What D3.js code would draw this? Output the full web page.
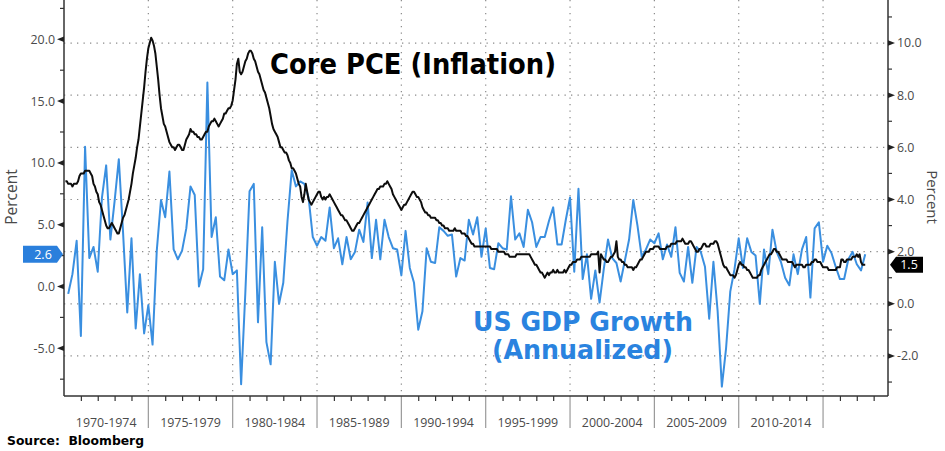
<!DOCTYPE html>
<html>
<head>
<meta charset="utf-8">
<script src="https://cdn.jsdelivr.net/npm/d3@7"></script>
<style>
  html, body { margin: 0; padding: 0; background: #fff; }
  svg { display: block; }
</style>
</head>
<body>
<svg id="chart" width="945" height="451"></svg>
<script>
// ---------------- DATA ----------------
// US real GDP growth, quarterly, annualized (%), 1970Q1 .. 2017Q2 (left axis)
const gdpStart = 1970;
const gdpGrowth = [
  -0.6, 1.0, 3.7, -4.0,   // 1970
  11.3, 2.3, 3.2, 1.2,    // 1971
  7.2, 9.8, 3.8, 6.9,     // 1972
  10.3, 4.4, -2.1, 3.9,   // 1973
  -3.4, 1.0, -3.8, -1.5,  // 1974
  -4.7, 2.9, 7.0, 5.6,    // 1975
  9.3, 3.0, 2.2, 2.9,     // 1976
  4.7, 8.1, 7.4, 0.0,     // 1977
  1.4, 16.5, 4.0, 5.6,    // 1978
  0.8, 0.5, 3.0, 1.0,     // 1979
  1.3, -7.9, -0.5, 7.7,   // 1980
  8.3, -2.9, 4.8, -4.5,   // 1981
  -6.3, 2.0, -1.4, 0.3,   // 1982
  5.3, 9.4, 8.1, 8.5,     // 1983
  8.3, 7.2, 4.0, 3.3,     // 1984
  4.0, 3.7, 6.4, 3.1,     // 1985
  3.9, 1.8, 4.0, 2.2,     // 1986
  2.8, 4.6, 3.6, 6.8,     // 1987
  2.3, 5.4, 2.2, 5.4,     // 1988
  4.0, 3.1, 3.0, 0.9,     // 1989
  4.5, 1.5, 0.3, -3.5,    // 1990
  -2.0, 3.1, 2.0, 1.9,    // 1991
  4.8, 4.5, 4.1, 4.2,     // 1992
  0.8, 2.3, 2.1, 5.4,     // 1993
  4.2, 5.6, 2.4, 4.7,     // 1994
  1.5, 1.4, 3.5, 3.1,     // 1995
  3.0, 7.3, 3.8, 4.3,     // 1996
  3.2, 6.2, 5.2, 3.2,     // 1997
  4.0, 4.0, 5.3, 6.4,     // 1998
  3.4, 3.4, 5.4, 7.2,     // 1999
  1.2, 7.9, 0.6, 2.6,     // 2000
  -1.0, 1.3, -1.3, 1.4,   // 2001
  3.8, 2.3, 1.9, 0.4,     // 2002
  2.1, 3.8, 7.0, 4.9,     // 2003
  2.4, 3.0, 3.8, 3.5,     // 2004
  4.3, 2.2, 3.4, 2.4,     // 2005
  4.8, 1.1, 0.4, 3.2,     // 2006
  0.3, 3.2, 2.8, 1.6,     // 2007
  -2.6, 2.0, -2.0, -8.1,  // 2008
  -5.0, -0.4, 1.4, 3.9,   // 2009
  1.5, 3.9, 2.8, 2.5,     // 2010
  -1.4, 3.0, 1.0, 4.6,    // 2011
  2.8, 2.0, 0.7, 0.1,     // 2012
  2.6, 1.0, 3.0, 4.0,     // 2013
  -0.9, 4.7, 5.2, 2.0,    // 2014
  3.3, 2.7, 1.6, 0.6,     // 2015
  0.6, 2.2, 2.8, 1.8,     // 2016
  1.3, 2.6                // 2017
];

// Core PCE, year-over-year (%), monthly, Jan 1970 .. Jun 2017 (right axis)
const pceStart = 1970;
const corePce = [
  4.7, 4.7, 4.6, 4.6, 4.6, 4.5, 4.6, 4.6, 4.6, 4.7, 4.9, 5.0,   // 1970
  5.0, 5.0, 5.1, 5.1, 5.1, 5.1, 5.0, 4.9, 4.6, 4.5, 4.3, 4.2,   // 1971
  3.9, 3.8, 3.6, 3.4, 3.2, 3.0, 2.9, 2.9, 3.0, 3.1, 3.0, 2.9,   // 1972
  2.8, 2.7, 2.7, 2.9, 3.1, 3.3, 3.4, 3.6, 3.8, 4.0, 4.3, 4.6,   // 1973
  5.0, 5.3, 5.6, 6.0, 6.3, 6.8, 7.3, 7.8, 8.3, 8.9, 9.4, 9.8,   // 1974
  10.0, 10.2, 10.1, 9.9, 9.6, 9.1, 8.6, 8.0, 7.5, 7.2, 6.9, 6.8, // 1975
  6.6, 6.4, 6.2, 6.1, 6.0, 6.0, 5.9, 6.0, 6.1, 6.1, 6.0, 5.9,   // 1976
  5.9, 6.1, 6.3, 6.4, 6.5, 6.7, 6.6, 6.6, 6.5, 6.5, 6.4, 6.4,   // 1977
  6.3, 6.3, 6.4, 6.5, 6.6, 6.6, 6.8, 6.9, 7.0, 7.0, 7.1, 7.0,   // 1978
  6.9, 6.8, 6.9, 7.0, 7.1, 7.3, 7.3, 7.4, 7.5, 7.5, 7.6, 7.8,   // 1979
  8.2, 8.6, 9.2, 9.4, 8.9, 8.8, 8.9, 9.1, 9.3, 9.4, 9.6, 9.7,   // 1980
  9.7, 9.6, 9.4, 9.3, 9.1, 8.9, 8.8, 8.6, 8.4, 8.2, 8.1, 7.9,   // 1981
  7.7, 7.5, 7.2, 6.9, 6.7, 6.6, 6.5, 6.4, 6.2, 6.0, 6.0, 5.9,   // 1982
  5.8, 5.8, 5.7, 5.5, 5.4, 5.2, 5.2, 5.1, 5.0, 4.8, 4.6, 4.5,   // 1983
  4.1, 3.9, 4.2, 4.6, 4.3, 4.0, 3.9, 3.8, 3.9, 4.0, 4.1, 4.2,   // 1984
  4.3, 4.3, 4.1, 4.0, 4.1, 4.0, 4.1, 4.1, 4.2, 4.1, 4.0, 3.9,   // 1985
  3.8, 3.7, 3.6, 3.5, 3.4, 3.4, 3.3, 3.2, 3.2, 3.1, 3.0, 2.9,   // 1986
  2.8, 2.8, 2.9, 3.0, 3.1, 3.1, 3.2, 3.3, 3.4, 3.5, 3.6, 3.7,   // 1987
  3.8, 3.9, 4.0, 4.1, 4.2, 4.3, 4.4, 4.4, 4.5, 4.5, 4.5, 4.6,   // 1988
  4.6, 4.7, 4.6, 4.5, 4.4, 4.2, 4.1, 4.0, 3.9, 3.8, 3.7, 3.6,   // 1989
  3.7, 3.8, 3.8, 3.9, 4.0, 4.1, 4.2, 4.3, 4.3, 4.2, 4.1, 4.1,   // 1990
  4.0, 3.9, 3.7, 3.6, 3.5, 3.5, 3.4, 3.4, 3.3, 3.3, 3.3, 3.3,   // 1991
  3.2, 3.2, 3.1, 3.1, 3.0, 3.0, 2.9, 2.9, 2.9, 2.8, 2.8, 2.8,   // 1992
  2.8, 2.9, 2.8, 2.8, 2.8, 2.8, 2.7, 2.7, 2.7, 2.6, 2.6, 2.5,   // 1993
  2.4, 2.3, 2.3, 2.2, 2.2, 2.2, 2.2, 2.2, 2.2, 2.2, 2.2, 2.2,   // 1994
  2.2, 2.2, 2.2, 2.1, 2.1, 2.1, 2.1, 2.1, 2.0, 2.0, 2.0, 2.0,   // 1995
  2.0, 1.9, 1.9, 1.9, 1.8, 1.8, 1.8, 1.8, 1.8, 1.9, 1.9, 1.9,   // 1996
  1.9, 1.9, 1.9, 1.9, 1.9, 1.9, 1.9, 1.8, 1.7, 1.6, 1.5, 1.5,   // 1997
  1.4, 1.3, 1.2, 1.2, 1.1, 1.0, 1.1, 1.2, 1.1, 1.2, 1.2, 1.3,   // 1998
  1.2, 1.2, 1.3, 1.2, 1.2, 1.2, 1.2, 1.3, 1.2, 1.3, 1.4, 1.5,   // 1999
  1.5, 1.6, 1.6, 1.6, 1.7, 1.7, 1.7, 1.8, 1.8, 1.8, 1.8, 1.8,   // 2000
  1.8, 1.8, 1.9, 1.9, 1.9, 1.9, 1.9, 2.0, 1.2, 1.9, 1.8, 1.7,   // 2001
  1.7, 1.6, 1.6, 1.7, 1.8, 1.8, 1.9, 2.0, 2.4, 1.8, 1.7, 1.7,   // 2002
  1.6, 1.6, 1.5, 1.5, 1.4, 1.4, 1.4, 1.4, 1.3, 1.4, 1.4, 1.5,   // 2003
  1.6, 1.7, 1.7, 1.8, 1.9, 2.0, 2.0, 2.0, 2.1, 2.1, 2.1, 2.2,   // 2004
  2.2, 2.2, 2.2, 2.1, 2.1, 2.1, 2.1, 2.1, 2.2, 2.2, 2.2, 2.3,   // 2005
  2.3, 2.3, 2.3, 2.4, 2.4, 2.4, 2.4, 2.5, 2.4, 2.3, 2.3, 2.3,   // 2006
  2.4, 2.4, 2.3, 2.2, 2.1, 2.0, 2.0, 2.1, 2.1, 2.2, 2.3, 2.3,   // 2007
  2.2, 2.2, 2.2, 2.3, 2.3, 2.3, 2.4, 2.4, 2.3, 2.1, 1.9, 1.7,   // 2008
  1.5, 1.4, 1.4, 1.3, 1.2, 1.1, 1.1, 1.1, 1.0, 1.1, 1.3, 1.5,   // 2009
  1.6, 1.5, 1.5, 1.4, 1.4, 1.3, 1.3, 1.2, 1.1, 1.0, 1.0, 1.0,   // 2010
  1.0, 1.1, 1.1, 1.3, 1.4, 1.5, 1.6, 1.7, 1.8, 1.9, 1.9, 2.0,   // 2011
  2.1, 2.1, 2.0, 2.0, 1.9, 1.8, 1.7, 1.7, 1.7, 1.7, 1.6, 1.6,   // 2012
  1.6, 1.6, 1.5, 1.4, 1.5, 1.5, 1.5, 1.5, 1.5, 1.4, 1.4, 1.5,   // 2013
  1.5, 1.5, 1.5, 1.6, 1.6, 1.7, 1.7, 1.6, 1.6, 1.6, 1.5, 1.4,   // 2014
  1.4, 1.4, 1.4, 1.3, 1.3, 1.3, 1.3, 1.3, 1.3, 1.4, 1.4, 1.4,   // 2015
  1.7, 1.7, 1.6, 1.6, 1.7, 1.7, 1.7, 1.7, 1.8, 1.8, 1.8, 1.9,   // 2016
  1.8, 1.9, 1.6, 1.5, 1.5, 1.5                                  // 2017
];

const periodLabels = ["1970-1974", "1975-1979", "1980-1984", "1985-1989", "1990-1994",
                      "1995-1999", "2000-2004", "2005-2009", "2010-2014"];
const periodStarts = [1970, 1975, 1980, 1985, 1990, 1995, 2000, 2005, 2010];
const leftTicks = [-5, 0, 5, 10, 15, 20];
const leftMinorTicks = [-7.5, -2.5, 2.5, 7.5, 12.5, 17.5, 22.5];
const rightTicks = [-2, 0, 2, 4, 6, 8, 10];
const rightMinorTicks = [-3, -1, 1, 3, 5, 7, 9, 11];
const lastGdp = 2.6;
const lastPce = 1.5;

// ---------------- LAYOUT ----------------
const svg = d3.select("#chart");
const L = 64, R = 888, T = 0, B = 396;
const blue = "#3a8fe0", blueText = "#2a83df", tickText = "#4a4a4a";

const x = d3.scaleLinear().domain([1970, 2018.85]).range([L, R]);
const yL = d3.scaleLinear().domain([-8.86, 23.18]).range([B, T]);
const yR = d3.scaleLinear().domain([-3.535, 11.65]).range([B, T]);

// Gridlines (dotted)
const grid = svg.append("g").attr("stroke", "#8a8a8a").attr("stroke-width", 1.2)
  .attr("stroke-dasharray", "1.3 5.2");
grid.selectAll("line.h").data(rightTicks).join("line")
  .attr("x1", L).attr("x2", R).attr("y1", d => yR(d)).attr("y2", d => yR(d));
grid.selectAll("line.v").data(periodStarts.slice(1).concat([2015])).join("line")
  .attr("x1", d => x(d)).attr("x2", d => x(d)).attr("y1", T).attr("y2", B);

// Series
const gdpPts = gdpGrowth.map((v, i) => [gdpStart + (i + 1) / 4, v]);
const pcePts = corePce.map((v, i) => [pceStart + (i + 1) / 12, v]);

svg.append("path").datum(gdpPts)
  .attr("fill", "none").attr("stroke", blue).attr("stroke-width", 2)
  .attr("stroke-linejoin", "round")
  .attr("d", d3.line().x(d => x(d[0])).y(d => yL(d[1])));

svg.append("path").datum(pcePts)
  .attr("fill", "none").attr("stroke", "#0d0d0d").attr("stroke-width", 2)
  .attr("stroke-linejoin", "round")
  .attr("d", d3.line().x(d => x(d[0])).y(d => yR(d[1])));

// Bottom axis: yearly minor ticks
const years = d3.range(1971, 2019).filter(y => y % 5 !== 0);
const xAxis = svg.append("g").attr("transform", `translate(0,${B})`)
  .call(d3.axisBottom(x).tickValues(years).tickSize(5).tickFormat("").tickSizeOuter(0));
xAxis.select(".domain").remove();
xAxis.selectAll(".tick line").attr("stroke", "#333").attr("stroke-width", 1.2);

// Period separators
svg.append("g").selectAll("line").data(periodStarts.slice(1).concat([2015])).join("line")
  .attr("x1", d => x(d)).attr("x2", d => x(d)).attr("y1", B).attr("y2", B + 32)
  .attr("stroke", "#999").attr("stroke-width", 1.2);

// Period labels
svg.append("g").selectAll("text").data(periodLabels).join("text")
  .attr("x", (d, i) => x(periodStarts[i] + 2.5)).attr("y", B + 31)
  .attr("text-anchor", "middle").attr("font-family", "Open Sans, sans-serif")
  .attr("font-size", 12.4).attr("fill", tickText).text(d => d);

// Axis lines
svg.append("line").attr("x1", L).attr("x2", R).attr("y1", B).attr("y2", B)
  .attr("stroke", "#333").attr("stroke-width", 1.5);
svg.append("line").attr("x1", L).attr("x2", L).attr("y1", T).attr("y2", B)
  .attr("stroke", "#333").attr("stroke-width", 1.5);
svg.append("line").attr("x1", R).attr("x2", R).attr("y1", T).attr("y2", B)
  .attr("stroke", "#333").attr("stroke-width", 1.5);

// Left axis labels
const leftAxis = svg.append("g").attr("transform", `translate(${L},0)`)
  .call(d3.axisLeft(yL).tickValues(leftTicks).tickSize(0).tickPadding(9)
    .tickFormat(d => d.toFixed(1)));
leftAxis.select(".domain").remove();
leftAxis.selectAll("text").attr("font-family", "Open Sans, sans-serif")
  .attr("font-size", 12.4).attr("fill", tickText);

// Left wedge ticks & minor ticks
svg.append("g").selectAll("path").data(leftTicks).join("path")
  .attr("d", d => `M${L},${yL(d) - 2.8}L${L - 7},${yL(d)}L${L},${yL(d) + 2.8}Z`)
  .attr("fill", "#222");
svg.append("g").selectAll("line").data(leftMinorTicks).join("line")
  .attr("x1", L - 4).attr("x2", L).attr("y1", d => yL(d)).attr("y2", d => yL(d))
  .attr("stroke", "#333").attr("stroke-width", 1.2);

// Right axis labels
const rightAxis = svg.append("g").attr("transform", `translate(${R},0)`)
  .call(d3.axisRight(yR).tickValues(rightTicks).tickSize(0).tickPadding(9)
    .tickFormat(d => d.toFixed(1)));
rightAxis.select(".domain").remove();
rightAxis.selectAll("text").attr("font-family", "Open Sans, sans-serif")
  .attr("font-size", 12.4).attr("fill", tickText);

svg.append("g").selectAll("path").data(rightTicks).join("path")
  .attr("d", d => `M${R},${yR(d) - 2.8}L${R + 7},${yR(d)}L${R},${yR(d) + 2.8}Z`)
  .attr("fill", "#222");
svg.append("g").selectAll("line").data(rightMinorTicks).join("line")
  .attr("x1", R).attr("x2", R + 4).attr("y1", d => yR(d)).attr("y2", d => yR(d))
  .attr("stroke", "#333").attr("stroke-width", 1.2);

// Axis titles
svg.append("text").attr("transform", "translate(17,197) rotate(-90)")
  .attr("text-anchor", "middle").attr("font-family", "Open Sans, sans-serif")
  .attr("font-size", 15.5).attr("fill", tickText).text("Percent");
svg.append("text").attr("transform", "translate(927,197) rotate(90)")
  .attr("text-anchor", "middle").attr("font-family", "Open Sans, sans-serif")
  .attr("font-size", 15).attr("fill", tickText).text("Percent");

// Last-value callouts
const yg = yL(lastGdp);
svg.append("path")
  .attr("d", `M23,${yg - 8.5}H57L63,${yg}L57,${yg + 8.5}H23Z`)
  .attr("fill", "#2a7fdc");
svg.append("text").attr("x", 43).attr("y", yg).attr("dy", "0.36em")
  .attr("text-anchor", "middle").attr("font-family", "Open Sans, sans-serif")
  .attr("font-size", 12.5).attr("fill", "#fff").text(lastGdp.toFixed(1));

const yp = yR(lastPce);
svg.append("path")
  .attr("d", `M890,${yp}L896,${yp - 8}H923V${yp + 8}H896Z`)
  .attr("fill", "#000");
svg.append("text").attr("x", 909).attr("y", yp).attr("dy", "0.36em")
  .attr("text-anchor", "middle").attr("font-family", "Open Sans, sans-serif")
  .attr("font-size", 12.5).attr("fill", "#fff").text(lastPce.toFixed(1));

// Annotations
svg.append("text").attr("x", 270).attr("y", 74)
  .attr("font-family", "DejaVu Sans, Verdana, sans-serif").attr("font-weight", "bold")
  .attr("font-size", 28.5).attr("textLength", 286).attr("lengthAdjust", "spacingAndGlyphs")
  .attr("fill", "#000").text("Core PCE (Inflation)");
svg.append("text").attr("x", 473).attr("y", 331)
  .attr("font-family", "DejaVu Sans, Verdana, sans-serif").attr("font-weight", "bold")
  .attr("font-size", 26.5).attr("textLength", 220).attr("lengthAdjust", "spacingAndGlyphs")
  .attr("fill", blueText).text("US GDP Growth");
svg.append("text").attr("x", 492).attr("y", 359)
  .attr("font-family", "DejaVu Sans, Verdana, sans-serif").attr("font-weight", "bold")
  .attr("font-size", 26.5).attr("textLength", 181).attr("lengthAdjust", "spacingAndGlyphs")
  .attr("fill", blueText).text("(Annualized)");

svg.append("text").attr("x", 7).attr("y", 445)
  .attr("font-family", "DejaVu Sans, Verdana, sans-serif").attr("font-weight", "bold")
  .attr("font-size", 12.5).attr("textLength", 137).attr("lengthAdjust", "spacingAndGlyphs")
  .attr("fill", "#000").attr("xml:space", "preserve").text("Source:  Bloomberg");
</script>
</body>
</html>
